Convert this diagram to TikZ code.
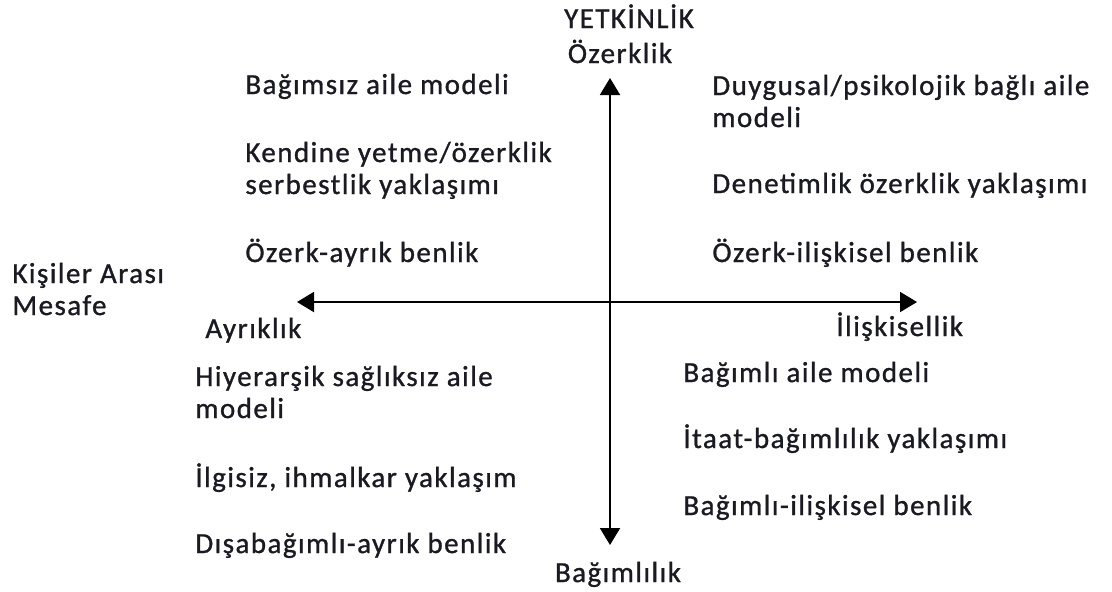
\documentclass[tikz,border=0pt]{standalone}
\usepackage{fontspec}
\setmainfont{Carlito}[LetterSpace=5.0,FakeBold=1]
\usepackage{tikz}
\usetikzlibrary{arrows.meta}
\newcommand{\axiscolor}{black}
\newcommand{\thickness}{1pt}
\definecolor{txtcolor}{HTML}{1A1A22}
\tikzset{
  lbl/.style={anchor=base west, inner sep=0pt, align=left, text=txtcolor, font=\fontsize{14.5}{16}\selectfont},
  ctr/.style={anchor=base, inner sep=0pt, align=center, text=txtcolor, font=\fontsize{14.5}{16}\selectfont},
  axis/.style={draw=\axiscolor, line width=\thickness, -{Triangle[length=8.5pt,width=10pt]}}
}

\begin{document}
\begin{tikzpicture}[x=0.5pt, y=-0.5pt]
\useasboundingbox (0,0) rectangle (1112,591);
\coordinate (o) at (610,302);
\coordinate (top) at (610,78);
\coordinate (bottom) at (610,545);
\coordinate (left) at (297,302);
\coordinate (right) at (917,302);
\draw[axis] (o) -- (top);
\draw[axis] (o) -- (bottom);
\draw[axis] (o) -- (left);
\draw[axis] (o) -- (right);
% axis labels
\node[ctr] (yet) at (629,28) {YETK\.{I}NL\.{I}K};
\node[ctr] (ozk) at (620,63) {Özerklik};
\node[ctr] (bgl) at (618,582) {Bağımlılık};
\node[lbl] (kam) at (12,315) {Kişiler Arası\\Mesafe};
\node[lbl] (ayr) at (205,338) {Ayrıklık};
\node[lbl] (ils) at (836,336) {\.{I}lişkisellik};
% upper left
\node[lbl] (bam) at (245,94) {Bağımsız aile modeli};
\node[lbl] (kyo) at (245,194) {Kendine yetme/özerklik\\serbestlik yaklaşımı};
\node[lbl] (oab) at (245,262) {Özerk-ayrık benlik};
% upper right
\node[lbl] (dpb) at (712,127) {Duygusal/psikolojik bağlı aile\\modeli};
\node[lbl] (doy) at (712,193) {Denetimlik özerklik yaklaşımı};
\node[lbl] (oib) at (712,262) {Özerk-ilişkisel benlik};
% lower left
\node[lbl] (hsa) at (195,418) {Hiyerarşik sağlıksız aile\\modeli};
\node[lbl] (iiy) at (195,487) {\.{I}lgisiz, ihmalkar yaklaşım};
\node[lbl] (dab) at (195,553) {Dışabağımlı-ayrık benlik};
% lower right
\node[lbl] (bam2) at (683,382) {Bağımlı aile modeli};
\node[lbl] (iby) at (683,448) {\.{I}taat-bağımlılık yaklaşımı};
\node[lbl] (bib) at (683,515) {Bağımlı-ilişkisel benlik};
\end{tikzpicture}
\end{document}
